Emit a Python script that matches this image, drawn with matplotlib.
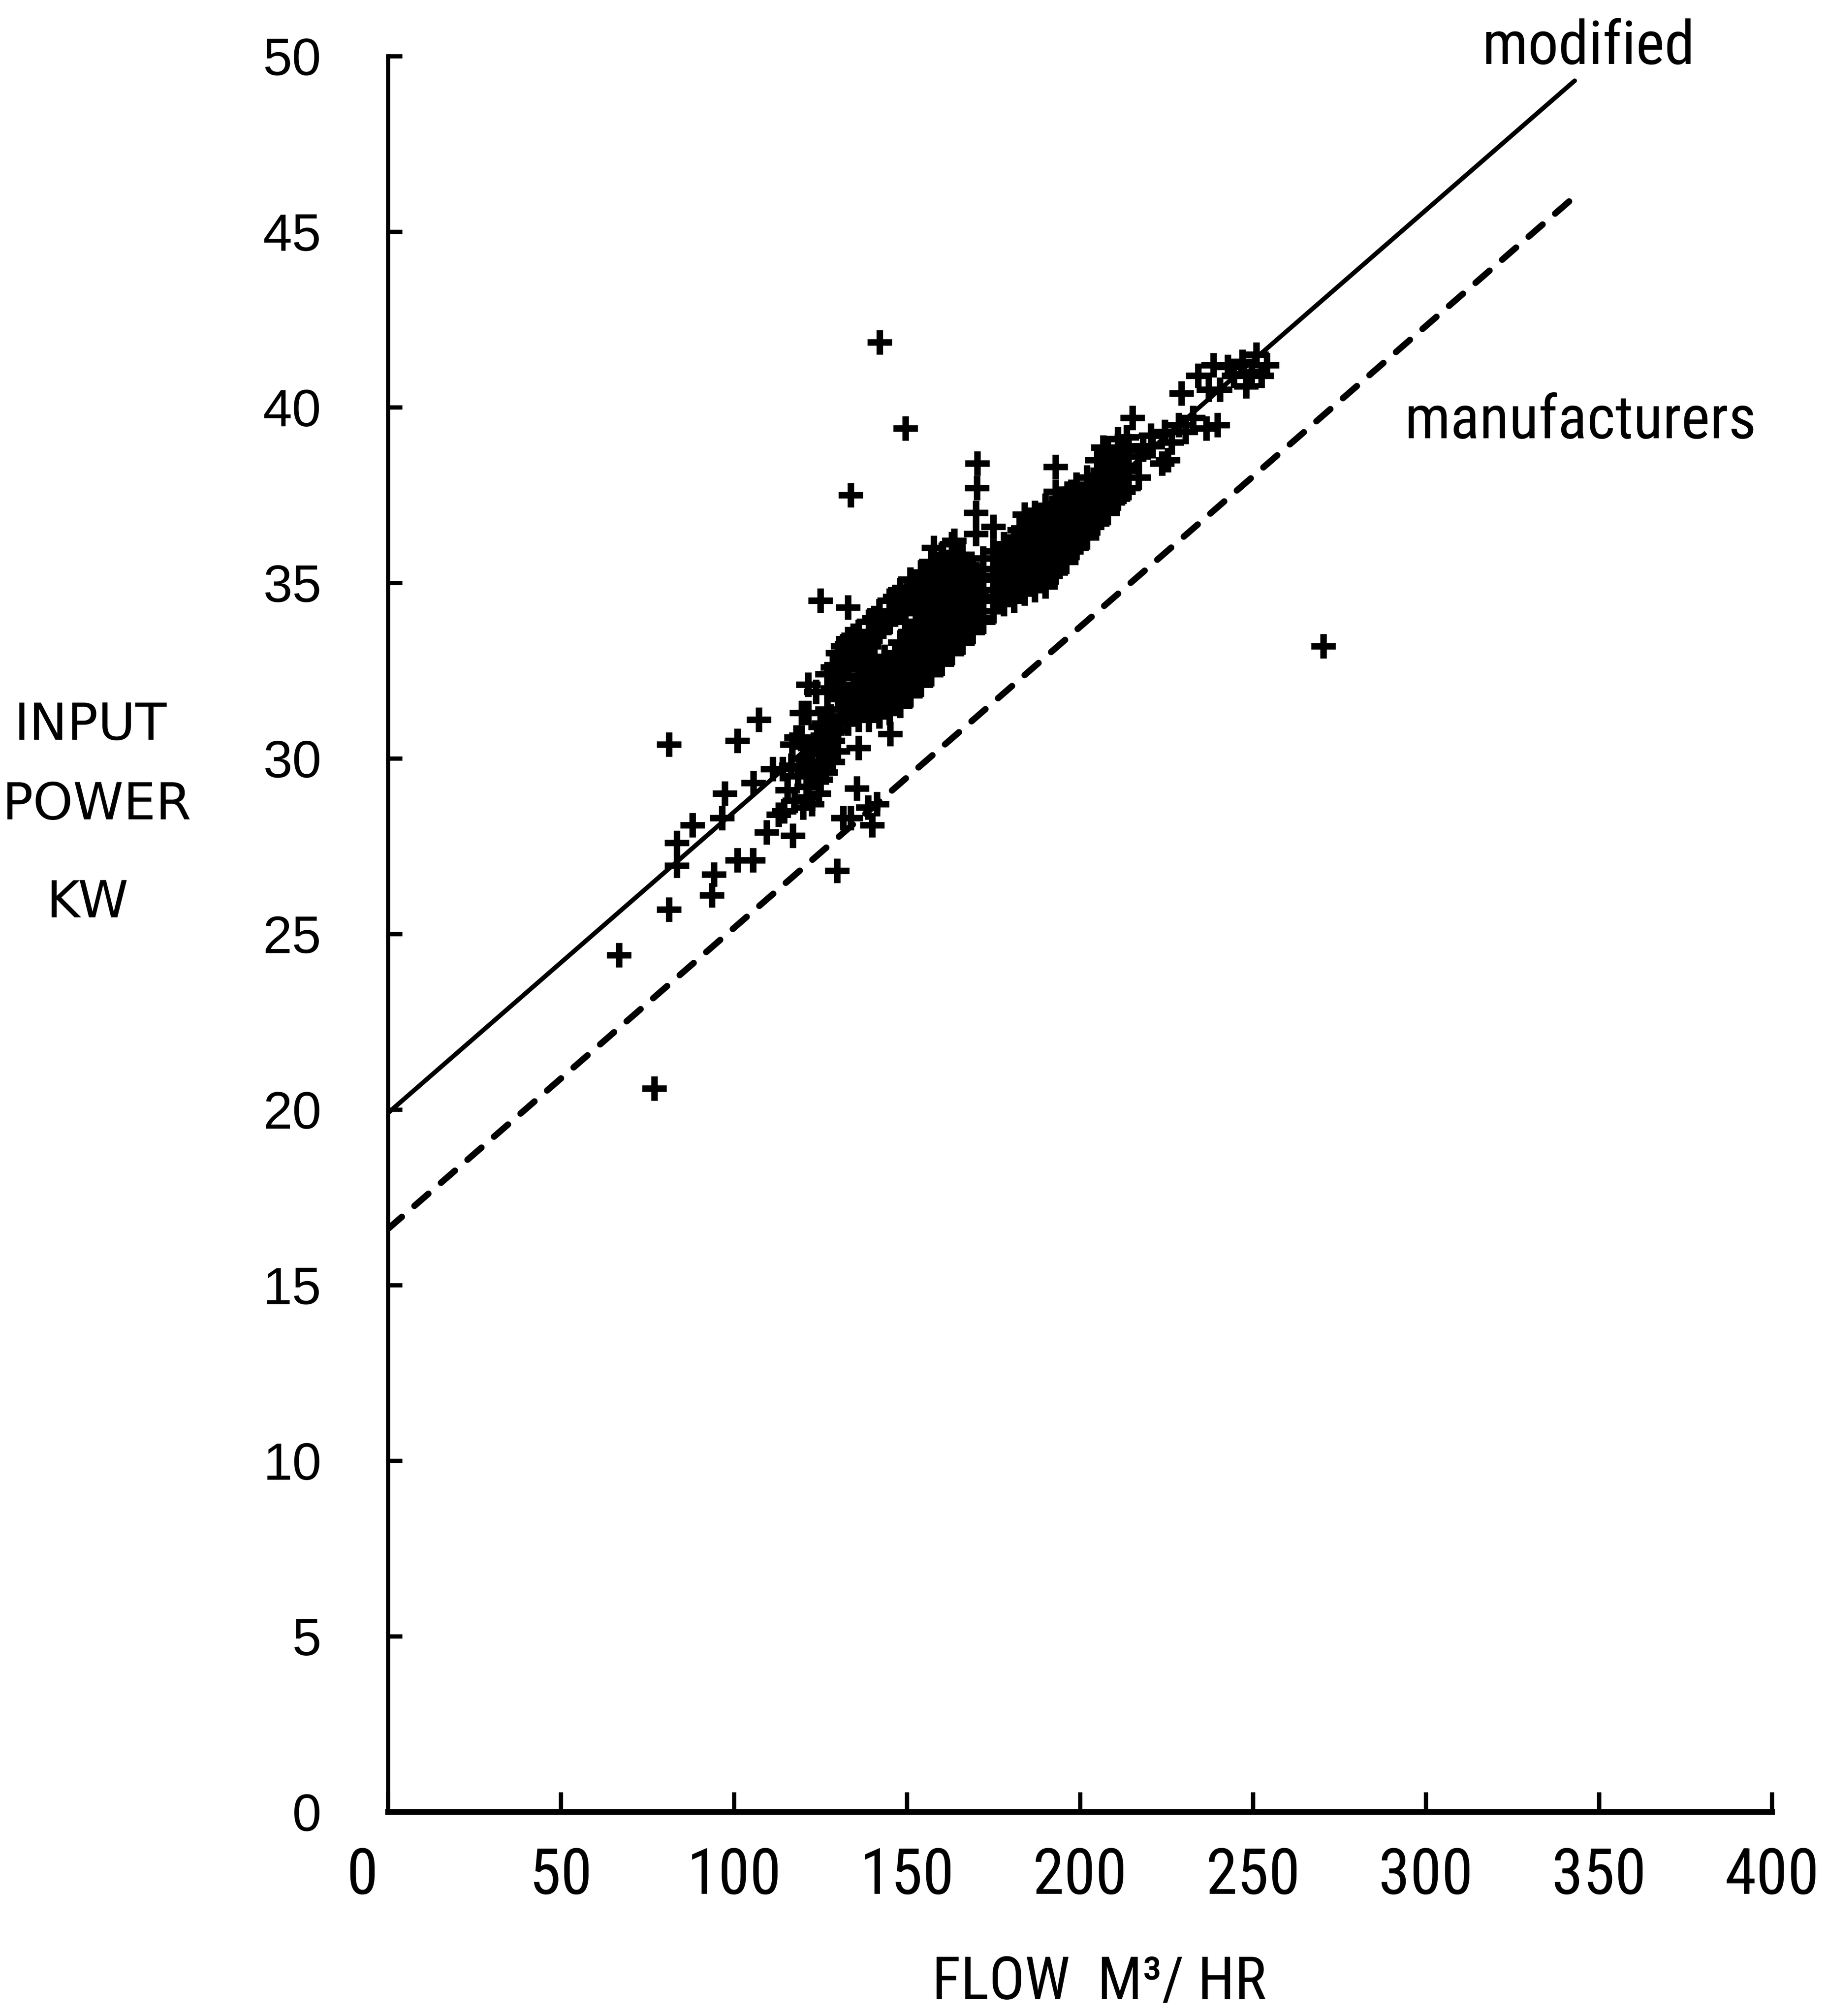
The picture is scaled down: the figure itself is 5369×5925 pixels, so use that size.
import matplotlib
matplotlib.use("Agg")
import matplotlib.pyplot as plt
from matplotlib import font_manager
from matplotlib.transforms import ScaledTranslation

# ---------------- data ----------------
x_ticks = [0, 50, 100, 150, 200, 250, 300, 350, 400]
y_ticks = [0, 5, 10, 15, 20, 25, 30, 35, 40, 45, 50]

# fitted lines (flow, power) end points
modified_x = [0, 343]
modified_y = [19.9, 49.3]
manuf_x = [0, 343]
manuf_y = [16.6, 46.0]

# isolated / scattered measurements
scatter_x = [66.8, 77.0, 81.2, 81.2, 83.5, 83.5, 88.0, 93.6, 94.2, 96.6, 97.4,
             101.0, 101.0, 105.5, 105.6, 107.2, 109.5, 111.2, 112.9, 114.5, 117.0,
             129.8, 131.6, 133.8, 135.5, 136.0, 138.8, 140.0, 141.3, 145.2,
             125.0, 133.0, 133.8, 142.1, 149.6, 270.4]
scatter_y = [24.4, 20.6, 30.4, 25.7, 27.6, 26.95, 28.1, 26.1, 26.7, 28.3, 29.0,
             30.5, 27.1, 27.1, 29.3, 31.1, 27.9, 29.7, 28.4, 28.5, 27.8,
             26.8, 28.3, 28.3, 29.15, 30.3, 28.6, 28.1, 28.7, 30.7,
             34.5, 34.3, 37.5, 41.85, 39.4, 33.2]

# lower-left lobe of the dense cloud
lobe_x = [114.1, 115.5, 116.8, 117.5, 118.5, 119.6, 119.5, 120.0, 121.0, 121.5,
          121.5, 122.5, 123.0, 123.5, 123.7, 124.5, 125.0, 125.5, 126.5, 127.0,
          127.5, 128.0, 128.5, 129.5, 130.0, 131.0, 121.5,
          116.5, 118.0, 120.0, 122.0, 124.0, 126.0, 122.5, 124.5, 127.0, 128.5,
          121.5, 125.0]
lobe_y = [29.7, 29.1, 30.4, 28.8, 29.5, 31.3, 30.6, 28.6, 29.2, 29.9,
          31.3, 28.7, 30.4, 29.6, 31.9, 29.0, 30.9, 30.2, 29.6, 31.4,
          30.6, 31.2, 29.9, 30.8, 30.2, 31.0, 32.1,
          29.8, 30.6, 30.0, 30.3, 30.5, 31.0, 29.6, 29.8, 30.2, 30.5,
          28.9, 29.4]

# first (upper-left) band of the cloud: columns of flow and their powers
band1_flow = [127, 128.5, 130, 131.5, 133, 134.5, 136, 137.5, 139, 140.5, 142,
              143.5, 145, 146.5, 148, 149.5, 151, 152.5, 154, 155.5, 157, 158.5,
              160, 161.5, 163, 164.5, 166, 167.5, 169, 170.5, 172]
band1_power = [
    [31.9, 32.4],
    [32.0, 32.6],
    [31.7, 32.3, 33.0],
    [31.4, 32.0, 32.7, 33.2],
    [31.0, 31.7, 32.6, 33.4],
    [31.4, 32.1, 32.8, 33.5],
    [31.1, 31.8, 32.3, 33.0, 33.6],
    [31.4, 32.1, 32.7, 33.3],
    [31.1, 31.8, 32.5, 33.2, 33.9],
    [31.5, 32.2, 32.9, 33.5, 34.0],
    [31.2, 31.9, 32.5, 33.6, 34.2],
    [31.6, 32.2, 32.9, 33.9],
    [31.3, 31.9, 32.6, 33.9, 34.5],
    [31.7, 32.3, 33.0, 34.1, 34.6],
    [31.5, 32.1, 32.7, 33.3, 34.2, 34.8],
    [31.9, 32.6, 33.2, 33.9, 34.6],
    [31.8, 32.4, 33.0, 33.6, 34.4, 35.1],
    [32.2, 32.9, 33.5, 34.2, 34.9],
    [32.1, 32.7, 33.3, 33.9, 34.6, 35.3],
    [32.5, 33.2, 33.8, 34.5, 35.2],
    [32.4, 33.0, 33.6, 34.3, 35.0, 35.6],
    [32.8, 33.5, 34.1, 34.8, 35.4],
    [32.7, 33.3, 33.9, 34.6, 35.2, 35.8],
    [33.1, 33.8, 34.4, 35.0, 35.6],
    [33.0, 33.6, 34.2, 34.9, 35.5, 36.1],
    [33.4, 34.0, 34.6, 35.2, 35.8],
    [33.3, 33.9, 34.5, 35.2, 35.8],
    [33.7, 34.3, 34.9, 35.5],
    [33.6, 34.2, 34.8, 35.4],
    [34.0, 34.6, 35.2],
    [33.9, 34.5, 35.1, 35.7],
]

# second (main) band of the cloud
band2_flow = [175, 176.5, 178, 179.5, 181, 182.5, 184, 185.5, 187, 188.5, 190,
              191.5, 193, 194.5, 196, 197.5, 199, 200.5, 202, 203.5, 205, 206.5,
              208, 209.5, 211, 212.5, 214, 217]
band2_power = [
    [34.2, 34.8, 35.4, 35.9],
    [34.5, 35.1, 35.7],
    [34.4, 35.0, 35.6, 36.1],
    [34.7, 35.3, 35.9],
    [34.5, 35.1, 35.7, 36.3],
    [34.8, 35.4, 36.0, 36.5],
    [34.7, 35.3, 35.9, 36.5, 36.95],
    [35.0, 35.6, 36.2, 36.8],
    [34.8, 35.4, 36.0, 36.6, 37.0],
    [35.1, 35.7, 36.3, 36.9],
    [34.9, 35.5, 36.1, 36.7, 37.2],
    [35.2, 35.8, 36.4, 37.0],
    [35.3, 35.9, 36.5, 37.1, 37.6, 38.3],
    [35.6, 36.2, 36.8, 37.4],
    [35.6, 36.2, 36.8, 37.4],
    [35.9, 36.5, 37.1, 37.6],
    [36.0, 36.6, 37.2, 37.8],
    [36.3, 36.9, 37.5],
    [36.3, 36.9, 37.5, 38.0],
    [36.6, 37.2, 37.8],
    [36.7, 37.3, 37.9, 38.5],
    [37.0, 37.6, 38.2],
    [37.0, 37.6, 38.2, 38.8],
    [37.3, 37.9, 38.5],
    [37.4, 38.0, 38.6, 39.1],
    [37.6, 38.2, 38.8],
    [37.7, 38.3, 38.9],
    [38.0, 38.6],
]

# upper points of the cloud and the high-flow end
upper_x = [157.8, 163.7, 170.0, 170.0, 170.2, 170.3, 175.0,
           206.7, 213.5, 215.2, 218.2, 220.5, 221.0, 223.8, 225.4, 224.5,
           226.5, 228.6, 229.4, 230.5, 232.7, 234.2, 236.5, 237.2, 238.6,
           239.8, 240.5, 242.7, 244.5, 247.0, 248.0, 249.6, 251.0, 252.5, 254.0]
upper_y = [36.0, 36.2, 36.4, 37.0, 37.7, 38.4, 36.6,
           38.86, 39.15, 39.7, 38.8, 39.2, 38.9, 38.4, 38.5, 39.3,
           39.0, 39.5, 40.4, 39.3, 39.7, 40.9, 39.4, 40.5, 41.2,
           39.5, 40.5, 41.15, 40.9, 41.3, 40.6, 41.0, 41.5, 40.9, 41.2]

# ---------------- fonts ----------------
def pick(cands):
    for c in cands:
        try:
            font_manager.findfont(font_manager.FontProperties(family=c),
                                  fallback_to_default=False)
            return c
        except Exception:
            pass
    return "DejaVu Sans"

NARROW = pick(["Liberation Sans Narrow", "Roboto Condensed", "DejaVu Sans"])
SANS = pick(["Liberation Sans", "DejaVu Sans"])

# ---------------- figure ----------------
W, H, DPI = 5369, 5925, 300
fig = plt.figure(figsize=(W / DPI, H / DPI), dpi=DPI, facecolor="white")
L, R, T, B = 1140, 5207, 165, 5325
ax = fig.add_axes([L / W, 1 - B / H, (R - L) / W, (B - T) / H])
ax.set_facecolor("white")
ax.set_xlim(0, 400)
ax.set_ylim(0, 50)

for s in ("top", "right"):
    ax.spines[s].set_visible(False)
ax.spines["left"].set_linewidth(3.0)
ax.spines["bottom"].set_linewidth(4.0)

ax.set_xticks(x_ticks)
ax.set_yticks(y_ticks)
ax.set_xticklabels([str(v) for v in x_ticks], fontfamily=NARROW, fontsize=45)
ax.set_yticklabels([str(v) for v in y_ticks], fontfamily=SANS, fontsize=37)
ax.tick_params(axis="x", direction="in", length=14, width=3, pad=24)
ax.tick_params(axis="y", direction="in", length=10, width=3, pad=47)
# the "0" of the flow axis sits left of the origin
lbl0 = ax.get_xticklabels()[0]
lbl0.set_transform(lbl0.get_transform() + ScaledTranslation(-75 / DPI, 0, fig.dpi_scale_trans))

# lines
ax.plot(modified_x, modified_y, color="black", lw=3.2, solid_capstyle="round")
ax.plot(manuf_x, manuf_y, color="black", lw=4.5, dash_capstyle="round",
        linestyle=(0, (13.0 / 4.5, 11.8 / 4.5)))

# points
mk = dict(ls="none", marker="+", ms=17.5, mew=4.6, color="black")
ax.plot(scatter_x, scatter_y, **mk)
ax.plot(lobe_x, lobe_y, **mk)
b1x = [f for f, col in zip(band1_flow, band1_power) for _ in col]
b1y = [p for col in band1_power for p in col]
ax.plot(b1x, b1y, **mk)
b2x = [f for f, col in zip(band2_flow, band2_power) for _ in col]
b2y = [p for col in band2_power for p in col]
ax.plot(b2x, b2y, **mk)
ax.plot(upper_x, upper_y, **mk)

# labels
fig.text(4668 / W, 1 - 188 / H, "modified", fontfamily=NARROW, fontsize=43,
         ha="center", va="baseline")
fig.text(4644 / W, 1 - 1288 / H, "manufacturers", fontfamily=NARROW, fontsize=43,
         ha="center", va="baseline")
fig.text(3230 / W, 1 - 5875 / H, "FLOW  M\u00b3/ HR", fontfamily=NARROW, fontsize=42,
         ha="center", va="baseline")
for txt, yc, xc in (("INPUT", 2133, 265), ("POWER", 2367, 284), ("KW", 2654, 257)):
    fig.text(xc / W, 1 - yc / H, txt, fontfamily="DejaVu Sans", fontsize=36,
             ha="center", va="center")

fig.savefig("out.png", dpi=DPI, facecolor="white")
